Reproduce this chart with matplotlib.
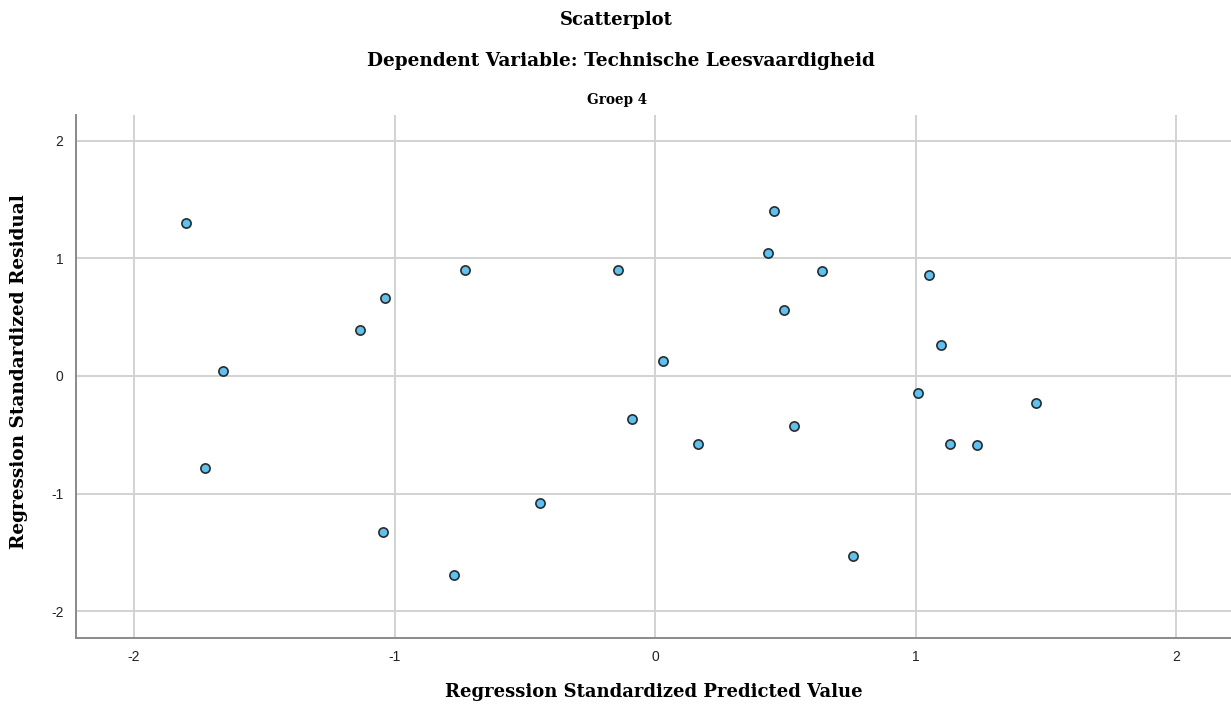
import matplotlib
matplotlib.use("Agg")
import matplotlib.pyplot as plt

plt.rcParams["axes.unicode_minus"] = False

# Standardized predicted values (x) and standardized residuals (y)
predicted = [-1.80, -1.658, -1.727, -1.132, -1.036, -1.044, -0.729, -0.772, -0.441,
             -0.142, -0.088, 0.031, 0.165, 0.457, 0.434, 0.495, 0.534, 0.641,
             0.760, 1.010, 1.052, 1.098, 1.132, 1.236, 1.463]
residual = [1.300, 0.042, -0.782, 0.391, 0.663, -1.325, 0.901, -1.691, -1.079,
            0.901, -0.365, 0.127, -0.578, 1.402, 1.045, 0.561, -0.425, 0.895,
            -1.529, -0.144, 0.858, 0.263, -0.578, -0.586, -0.229]
ticks = [-2, -1, 0, 1, 2]

serif = "DejaVu Serif"
sans = "Liberation Sans"

W, H = 1231, 713
fig = plt.figure(figsize=(W / 100, H / 100), dpi=100)
ax = fig.add_axes([76 / W, 1 - 637.7 / H, 1155 / W, 522.7 / H])

ax.scatter(predicted, residual, s=44, c="#5bc2f2", edgecolors="#2b2b2b",
           linewidths=1.2, zorder=3)

ax.set_xlim(-2.223, 2.211)
ax.set_ylim(-2.223, 2.217)
ax.set_xticks(ticks)
ax.set_yticks(ticks)
ax.grid(True, color="#d2d2d2", linewidth=1.4, zorder=0)
ax.set_axisbelow(True)

for side in ["top", "right"]:
    ax.spines[side].set_visible(False)
for side in ["left", "bottom"]:
    ax.spines[side].set_color("#8a8a8a")
    ax.spines[side].set_linewidth(1.4)

ax.tick_params(length=0, pad=9, labelsize=10, labelcolor="#222222")
for lab in ax.get_xticklabels() + ax.get_yticklabels():
    lab.set_fontfamily(sans)

# axis titles placed in figure coordinates
fig.text(654 / W, 1 - 692 / H, "Regression Standardized Predicted Value",
         ha="center", va="center", fontfamily=serif, fontweight="bold", fontsize=13)
fig.text(19 / W, 1 - 372 / H, "Regression Standardized Residual", rotation=90,
         ha="center", va="center", fontfamily=serif, fontweight="bold", fontsize=13.3)

fig.text(616 / W, 1 - 20 / H, "Scatterplot", ha="center", va="center",
         fontfamily=serif, fontweight="bold", fontsize=13)
fig.text(621 / W, 1 - 61 / H, "Dependent Variable: Technische Leesvaardigheid",
         ha="center", va="center", fontfamily=serif, fontweight="bold", fontsize=13.3)
fig.text(617 / W, 1 - 100 / H, "Groep 4", ha="center", va="center",
         fontfamily=serif, fontweight="bold", fontsize=9.8)

fig.savefig("out.png", dpi=100, facecolor="white")
